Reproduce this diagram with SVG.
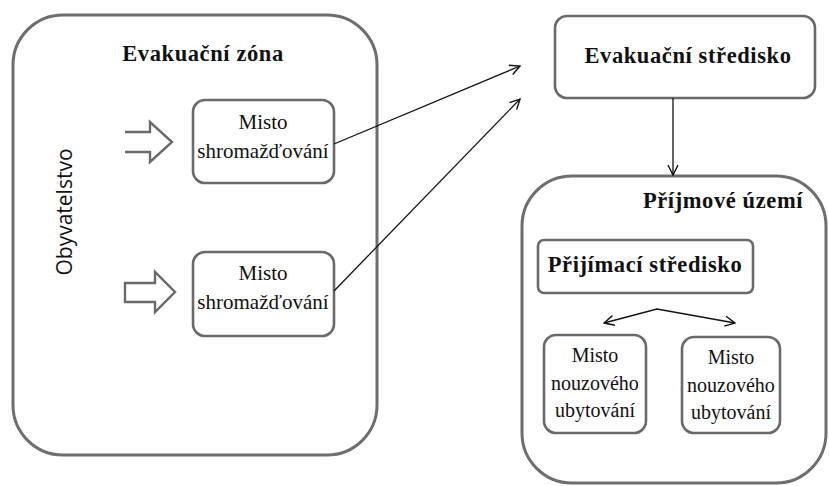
<svg xmlns="http://www.w3.org/2000/svg" width="829" height="486" viewBox="0 0 829 486">
<defs>
<marker id="open" viewBox="0 0 12 12" refX="11" refY="6" markerWidth="12" markerHeight="12" markerUnits="userSpaceOnUse" orient="auto-start-reverse">
<path d="M1,1 L11,6 L1,11" fill="none" stroke="#111" stroke-width="1.4"/>
</marker>
<style>
.zone{fill:#fff;stroke:#6e6e6e;stroke-width:3}
.box{fill:#fff;stroke:#6a6a6a;stroke-width:2.6}
.sf{font-family:"Liberation Serif","DejaVu Serif",serif}
.t{font-size:21px;fill:#111;text-anchor:middle}
.n{font-size:20px;fill:#111;text-anchor:middle}
.b{font-weight:bold;font-size:22.5px;fill:#111;text-anchor:middle;letter-spacing:0.6px}
.s{font-family:"Open Sans","Noto Sans",sans-serif;font-size:21px;fill:#111;text-anchor:middle}
.c{fill:none;stroke:#111;stroke-width:1.3}
.ha{fill:#fff;stroke:#6a6a6a;stroke-width:2.4}
</style>
</defs>
<rect width="829" height="486" fill="#fff"/>
<g id="evakuacni-zona" class="sf">
<rect class="zone" x="13" y="15" width="364" height="440" rx="50"/>
<text class="b" x="203" y="61">Evakuační zóna</text>
</g>
<g id="obyvatelstvo">
<text class="s" transform="translate(72,212) rotate(-90)">Obyvatelstvo</text>
</g>
<g id="hollow-arrow-1">
<path class="ha" d="M125,132 L150,132 L150,122 L172,142 L150,162 L150,152 L125,152"/>
</g>
<g id="hollow-arrow-2">
<path class="ha" d="M125,283 L155,283 L155,272 L175,292 L155,312 L155,302 L125,302 Z"/>
</g>
<g id="misto-1" class="sf">
<rect class="box" x="193" y="100" width="141" height="83" rx="12"/>
<text class="t" x="263" y="129">Misto</text>
<text class="t" x="263" y="158">shromažďování</text>
</g>
<g id="misto-2" class="sf">
<rect class="box" x="193" y="252" width="141" height="84" rx="12"/>
<text class="t" x="263" y="280">Misto</text>
<text class="t" x="263" y="309">shromažďování</text>
</g>
<g id="evakuacni-stredisko" class="sf">
<rect class="box" x="555" y="16" width="260" height="82" rx="12"/>
<text class="b" x="688" y="63">Evakuační středisko</text>
</g>
<g id="prijmove-uzemi" class="sf">
<rect class="zone" x="522" y="176" width="304" height="307" rx="50"/>
<text class="b" x="723" y="208">Příjmové území</text>
</g>
<g id="prijimaci-stredisko" class="sf">
<rect class="box" x="538" y="240" width="215" height="53" rx="6"/>
<text class="b" x="645" y="272">Přijímací středisko</text>
</g>
<g id="nouzove-1" class="sf">
<rect class="box" x="544" y="335" width="102" height="98" rx="12"/>
<text class="n" x="595" y="362">Misto</text>
<text class="n" x="595" y="390">nouzového</text>
<text class="n" x="595" y="417">ubytování</text>
</g>
<g id="nouzove-2" class="sf">
<rect class="box" x="682" y="337" width="98" height="96" rx="12"/>
<text class="n" x="731" y="364">Misto</text>
<text class="n" x="731" y="392">nouzového</text>
<text class="n" x="731" y="419">ubytování</text>
</g>
<g id="connectors">
<line class="c" x1="334" y1="144" x2="520" y2="66" marker-end="url(#open)"/>
<line class="c" x1="334" y1="291" x2="520" y2="99" marker-end="url(#open)"/>
<line class="c" x1="673" y1="98" x2="673" y2="175" marker-end="url(#open)"/>
<path class="c" d="M604,323 L657,309 L735,323" marker-start="url(#open)" marker-end="url(#open)"/>
</g>
</svg>
